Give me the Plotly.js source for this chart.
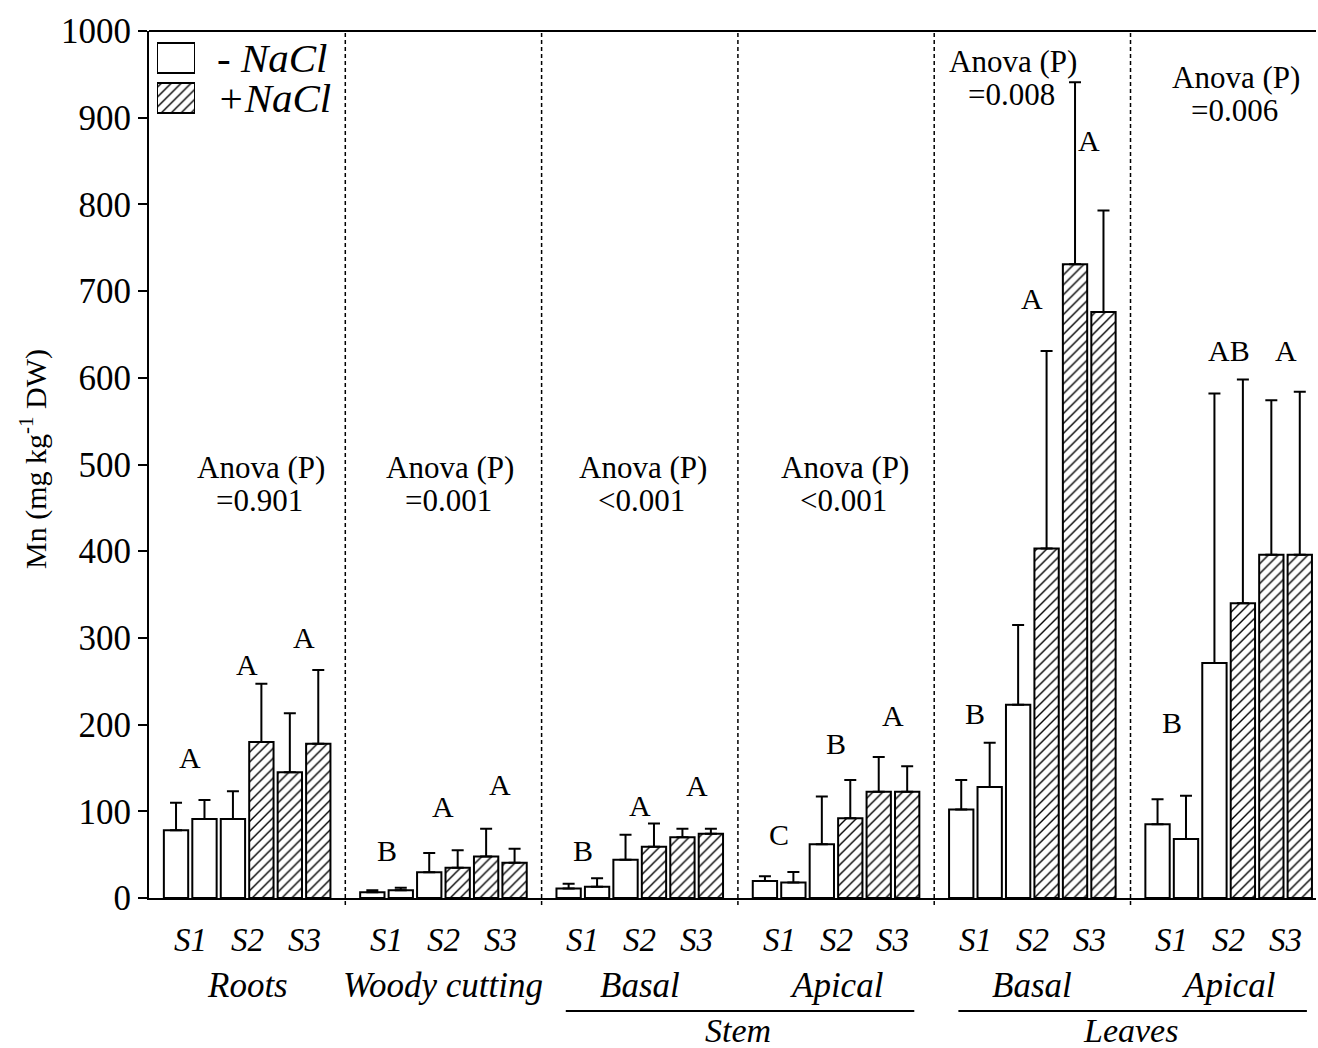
<!DOCTYPE html>
<html>
<head>
<meta charset="utf-8">
<script src="https://cdn.plot.ly/plotly-3.0.1.min.js"></script>
<style>html,body{margin:0;padding:0;background:#fff;}#chart{width:1318px;height:1048px;}</style>
</head>
<body>
<div id="chart"></div>
<script>
// ---------- DATA ----------
const groupNames = ['Roots', 'Woody cutting', 'Basal', 'Apical', 'Basal', 'Apical'];
const parentNames = ['Stem', 'Leaves'];
const seriesNames = ['- NaCl', '+NaCl'];
const samplingLabels = ['S1', 'S2', 'S3'];

// bars 1-3 of each group (open bars, -NaCl)
const minusNaClMean = [[78, 91, 91], [6.6, 8.9, 29.6], [11, 13, 44], [19.6, 18, 62], [102, 128, 223], [85, 68, 271]];
const minusNaClErr  = [[32, 22, 32], [2.3, 3, 22.4], [5.5, 9.7, 29], [5.4, 12, 55], [34, 51, 92], [29, 50, 311]];
// bars 4-6 of each group (hatched bars, +NaCl)
const plusNaClMean = [[180, 145, 178], [35, 48, 40.7], [59, 70, 74], [92, 122.6, 122.6], [403, 731, 676], [340, 396, 396]];
const plusNaClErr  = [[67, 68, 85], [20, 32, 16], [27, 10, 6], [44, 40, 29.4], [228, 210, 117], [258, 178, 188]];

// significance letters (per S1/S2/S3 pair) and their heights
const letterText = [['A', 'A', 'A'], ['B', 'A', 'A'], ['B', 'A', 'A'], ['C', 'B', 'A'], ['B', 'A', 'A'], ['B', 'AB', 'A']];
const letterY    = [[162, 269, 301], [55, 106, 131], [55, 107, 130], [73, 178, 210], [213, 692, 874], [203, 631, 631]];

// ANOVA p-values
const anovaP = ['=0.901', '=0.001', '<0.001', '<0.001', '=0.008', '=0.006'];
const anovaY = [496, 496, 496, 496, 965, 946];
const anovaX = [3.0, 2.73, 2.61, 2.81, 1.82, 2.76];

const yTicks = [0, 100, 200, 300, 400, 500, 600, 700, 800, 900, 1000];

// ---------- LAYOUT HELPERS ----------
const GAP = 6.9;              // distance between groups (bar slots)
const XMIN = -0.95, XMAX = 40.07;
const BW = 0.855;
const FONT = 'Liberation Serif, Times New Roman, serif';
const xpos = (g, k) => g * GAP + k;
const xpaper = x => (x - XMIN) / (XMAX - XMIN);
const ypx = px => (898 - px) / 867; // pixel row -> paper y

const wx = [], wy = [], we = [], hx = [], hy = [], he = [];
for (let g = 0; g < groupNames.length; g++) {
  for (let k = 0; k < 3; k++) {
    wx.push(xpos(g, k)); wy.push(minusNaClMean[g][k]); we.push(minusNaClErr[g][k]);
    hx.push(xpos(g, k + 3)); hy.push(plusNaClMean[g][k]); he.push(plusNaClErr[g][k]);
  }
}
const zeros = a => a.map(() => 0);
const errStyle = {thickness: 2, width: 6, color: '#000'};
const hatch = {shape: '/', fgcolor: '#000', bgcolor: '#fff', size: 7, solidity: 0.2, fillmode: 'replace'};

const traces = [
  {type: 'bar', x: wx, y: wy, width: BW, name: seriesNames[0], showlegend: false,
   marker: {color: '#fff', line: {color: '#000', width: 2}},
   error_y: Object.assign({type: 'data', symmetric: false, array: we, arrayminus: zeros(we)}, errStyle),
   hoverinfo: 'y'},
  {type: 'bar', x: hx, y: hy, width: BW, name: seriesNames[1], showlegend: false,
   marker: {color: '#fff', pattern: hatch, line: {color: '#000', width: 2}},
   error_y: Object.assign({type: 'data', symmetric: false, array: he, arrayminus: zeros(he)}, errStyle),
   hoverinfo: 'y'},
  // legend swatches
  {type: 'bar', orientation: 'h', x: [1], y: [1], width: 0.75, xaxis: 'x2', yaxis: 'y2', showlegend: false,
   marker: {color: '#fff', line: {color: '#000', width: 2}}, hoverinfo: 'skip'},
  {type: 'bar', orientation: 'h', x: [1], y: [0], width: 0.75, xaxis: 'x2', yaxis: 'y2', showlegend: false,
   marker: {color: '#fff', pattern: hatch, line: {color: '#000', width: 2}}, hoverinfo: 'skip'}
];

const annotations = [];
const shapes = [];
for (let g = 0; g < groupNames.length; g++) {
  // letters
  for (let p = 0; p < 3; p++) {
    annotations.push({x: xpos(g, 2 * p) + 0.5, y: letterY[g][p], xref: 'x', yref: 'y', text: letterText[g][p],
      showarrow: false, xanchor: 'center', yanchor: 'middle', font: {family: FONT, size: 30, color: '#000'}});
  }
  // anova
  annotations.push({x: g * GAP + anovaX[g], y: anovaY[g], xref: 'x', yref: 'y', text: 'Anova (P)',
    showarrow: false, xanchor: 'center', yanchor: 'middle', font: {family: FONT, size: 31, color: '#000'}});
  annotations.push({x: g * GAP + anovaX[g] - 0.05, y: anovaY[g] - 38, xref: 'x', yref: 'y', text: anovaP[g],
    showarrow: false, xanchor: 'center', yanchor: 'middle', font: {family: FONT, size: 31, color: '#000'}});
  // S labels
  for (let p = 0; p < 3; p++) {
    annotations.push({x: xpaper(xpos(g, 2 * p) + 0.5), y: ypx(940), xref: 'paper', yref: 'paper', text: samplingLabels[p],
      showarrow: false, xanchor: 'center', yanchor: 'middle', font: {family: FONT, size: 33, color: '#000', style: 'italic'}});
  }
  // group names
  annotations.push({x: xpaper(xpos(g, 2.5)), y: ypx(985), xref: 'paper', yref: 'paper', text: groupNames[g],
    showarrow: false, xanchor: 'center', yanchor: 'middle', font: {family: FONT, size: 35, color: '#000', style: 'italic'}});
  // dashed separators
  if (g > 0) {
    const xs = xpos(g, 0) - 0.95;
    shapes.push({type: 'line', xref: 'x', yref: 'paper', x0: xs, x1: xs, y0: -0.008, y1: 1,
      line: {color: '#000', width: 1.5, dash: '4px,3px'}});
  }
}
// parent labels (Stem over groups 2-3, Leaves over groups 4-5)
[[2, 3], [4, 5]].forEach((pair, i) => {
  const x0 = xpaper(xpos(pair[0], 0) - 0.1), x1 = xpaper(xpos(pair[1], 5) + 0.25);
  shapes.push({type: 'line', xref: 'paper', yref: 'paper', x0: x0, x1: x1, y0: ypx(1011), y1: ypx(1011),
    line: {color: '#000', width: 2}});
  annotations.push({x: (xpaper(xpos(pair[0], 2.5)) + xpaper(xpos(pair[1], 2.5))) / 2, y: ypx(1030), xref: 'paper', yref: 'paper',
    text: parentNames[i], showarrow: false, xanchor: 'center', yanchor: 'middle',
    font: {family: FONT, size: 34, color: '#000', style: 'italic'}});
});
// top frame line
shapes.push({type: 'line', xref: 'paper', yref: 'paper', x0: 0, x1: 1, y0: 1, y1: 1, line: {color: '#000', width: 2}});
// legend texts
annotations.push({x: (215 - 149) / 1167, y: ypx(58), xref: 'paper', yref: 'paper', text: seriesNames[0], showarrow: false,
  xanchor: 'left', yanchor: 'middle', font: {family: FONT, size: 41, color: '#000', style: 'italic'}});
annotations.push({x: (215 - 149) / 1167, y: ypx(98), xref: 'paper', yref: 'paper', text: seriesNames[1], showarrow: false,
  xanchor: 'left', yanchor: 'middle', font: {family: FONT, size: 41, color: '#000', style: 'italic'}});
// y-axis title
annotations.push({x: (33 - 149) / 1167, y: ypx(459), xref: 'paper', yref: 'paper', text: 'Mn (mg kg<sup>-1</sup> DW)',
  textangle: -90, showarrow: false, xanchor: 'center', yanchor: 'middle', font: {family: FONT, size: 30, color: '#000'}});

const layout = {
  width: 1318, height: 1048,
  margin: {l: 149, r: 2, t: 31, b: 150},
  paper_bgcolor: '#fff', plot_bgcolor: '#fff',
  barmode: 'overlay', showlegend: false,
  font: {family: FONT, color: '#000'},
  xaxis: {range: [XMIN, XMAX], showgrid: false, zeroline: false, showline: true, linewidth: 2, linecolor: '#000',
    showticklabels: false, ticks: '', fixedrange: true},
  yaxis: {range: [0, 1000], tickvals: yTicks, ticktext: yTicks.map(String), showgrid: false, zeroline: false,
    showline: true, linewidth: 2, linecolor: '#000', ticks: 'outside', ticklen: 9, tickwidth: 2, tickcolor: '#000',
    tickfont: {family: FONT, size: 35, color: '#000'}, fixedrange: true},
  xaxis2: {domain: [(157 - 149) / 1167, (195 - 149) / 1167], range: [0, 1], anchor: 'y2', visible: false, fixedrange: true},
  yaxis2: {domain: [ypx(118), ypx(38)], range: [-0.5, 1.5], anchor: 'x2', visible: false, fixedrange: true},
  annotations: annotations,
  shapes: shapes
};

Plotly.newPlot('chart', traces, layout, {displayModeBar: false, staticPlot: true});
</script>
</body>
</html>
